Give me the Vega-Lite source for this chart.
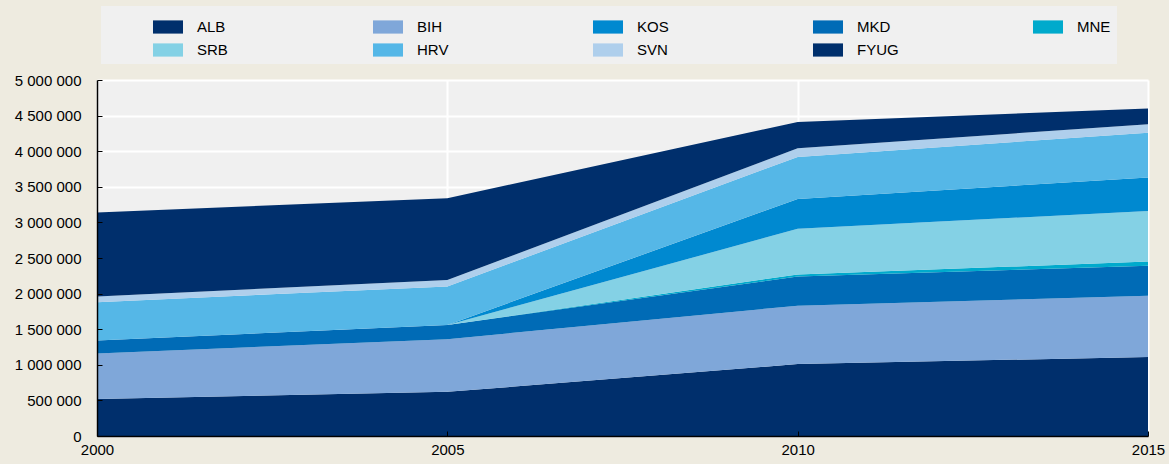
{
  "$schema": "https://vega.github.io/schema/vega-lite/v6.json",
  "width": 1051,
  "height": 356,
  "autosize": {"type": "none"},
  "padding": {"left": 97, "top": 80, "right": 21, "bottom": 28},
  "background": "#eeebe0",
  "config": {
    "view": {"fill": "#f0f0f0", "stroke": null},
    "font": "Liberation Sans, Arial",
    "locale": {"number": {"decimal": ".", "thousands": " ", "grouping": [3], "currency": ["", ""]}}
  },
  "data": {
    "values": [
      {"year": 2000, "country": "ALB", "k": 1, "value": 520000},
      {"year": 2000, "country": "BIH", "k": 2, "value": 640000},
      {"year": 2000, "country": "MKD", "k": 3, "value": 180000},
      {"year": 2000, "country": "MNE", "k": 4, "value": 0},
      {"year": 2000, "country": "SRB", "k": 5, "value": 0},
      {"year": 2000, "country": "KOS", "k": 6, "value": 0},
      {"year": 2000, "country": "HRV", "k": 7, "value": 540000},
      {"year": 2000, "country": "SVN", "k": 8, "value": 80000},
      {"year": 2000, "country": "FYUG", "k": 9, "value": 1180000},
      {"year": 2005, "country": "ALB", "k": 1, "value": 620000},
      {"year": 2005, "country": "BIH", "k": 2, "value": 740000},
      {"year": 2005, "country": "MKD", "k": 3, "value": 200000},
      {"year": 2005, "country": "MNE", "k": 4, "value": 0},
      {"year": 2005, "country": "SRB", "k": 5, "value": 0},
      {"year": 2005, "country": "KOS", "k": 6, "value": 0},
      {"year": 2005, "country": "HRV", "k": 7, "value": 540000},
      {"year": 2005, "country": "SVN", "k": 8, "value": 90000},
      {"year": 2005, "country": "FYUG", "k": 9, "value": 1150000},
      {"year": 2010, "country": "ALB", "k": 1, "value": 1010000},
      {"year": 2010, "country": "BIH", "k": 2, "value": 820000},
      {"year": 2010, "country": "MKD", "k": 3, "value": 410000},
      {"year": 2010, "country": "MNE", "k": 4, "value": 30000},
      {"year": 2010, "country": "SRB", "k": 5, "value": 640000},
      {"year": 2010, "country": "KOS", "k": 6, "value": 420000},
      {"year": 2010, "country": "HRV", "k": 7, "value": 590000},
      {"year": 2010, "country": "SVN", "k": 8, "value": 120000},
      {"year": 2010, "country": "FYUG", "k": 9, "value": 370000},
      {"year": 2015, "country": "ALB", "k": 1, "value": 1110000},
      {"year": 2015, "country": "BIH", "k": 2, "value": 860000},
      {"year": 2015, "country": "MKD", "k": 3, "value": 420000},
      {"year": 2015, "country": "MNE", "k": 4, "value": 60000},
      {"year": 2015, "country": "SRB", "k": 5, "value": 710000},
      {"year": 2015, "country": "KOS", "k": 6, "value": 470000},
      {"year": 2015, "country": "HRV", "k": 7, "value": 630000},
      {"year": 2015, "country": "SVN", "k": 8, "value": 120000},
      {"year": 2015, "country": "FYUG", "k": 9, "value": 220000}
    ]
  },
  "layer": [
    {
      "mark": {"type": "area", "interpolate": "linear"},
      "encoding": {
        "x": {
          "field": "year",
          "type": "quantitative",
          "scale": {"domain": [2000, 2015], "nice": false, "zero": false},
          "axis": {
            "orient": "bottom",
            "title": null,
            "values": [2000, 2005, 2010, 2015],
            "grid": true,
            "gridColor": "#ffffff",
            "gridWidth": 2,
            "gridOpacity": 1,
            "domain": false,
            "ticks": false,
            "labels": false,
            "zindex": 0
          }
        },
        "y": {
          "field": "value",
          "type": "quantitative",
          "stack": "zero",
          "scale": {"domain": [0, 5000000], "nice": false},
          "axis": {
            "orient": "left",
            "title": null,
            "values": [0, 500000, 1000000, 1500000, 2000000, 2500000, 3000000, 3500000, 4000000, 4500000, 5000000],
            "grid": true,
            "gridColor": "#ffffff",
            "gridWidth": 2,
            "gridOpacity": 1,
            "domain": false,
            "ticks": false,
            "labels": false,
            "zindex": 0
          }
        },
        "color": {
          "field": "country",
          "type": "nominal",
          "scale": {
            "domain": ["ALB", "BIH", "KOS", "MKD", "MNE", "SRB", "HRV", "SVN", "FYUG"],
            "range": ["#002f6c", "#7fa7d9", "#0089d0", "#006bb6", "#00aacc", "#84d1e5", "#55b7e7", "#afcfec", "#002f6c"]
          },
          "legend": {
            "orient": "none",
            "legendX": 4,
            "legendY": -74,
            "title": null,
            "direction": "horizontal",
            "columns": 5,
            "gridAlign": "all",
            "columnPadding": 88,
            "rowPadding": -2,
            "padding": 6,
            "symbolOffset": 46,
            "fillColor": "#f0f0f0",
            "symbolType": "M-1,-0.44H1V0.44H-1Z",
            "symbolSize": 900,
            "symbolStrokeWidth": 0,
            "symbolOpacity": 1,
            "labelFontSize": 15,
            "labelColor": "#000000",
            "labelOffset": 14
          }
        },
        "order": {"field": "k", "type": "quantitative"}
      }
    },
    {
      "mark": {"type": "point", "opacity": 0},
      "encoding": {
        "x": {
          "field": "year",
          "type": "quantitative",
          "scale": {"domain": [2000, 2015], "nice": false, "zero": false},
          "axis": {
            "orient": "bottom",
            "title": null,
            "values": [2000, 2005, 2010, 2015],
            "format": "d",
            "grid": false,
            "domainColor": "#000000",
            "domainWidth": 1.5,
            "tickColor": "#000000",
            "tickSize": -5,
            "labelPadding": 11,
            "labelFontSize": 15,
            "labelColor": "#000000",
            "labelFlush": false,
            "zindex": 1
          }
        },
        "y": {
          "field": "value",
          "type": "quantitative",
          "scale": {"domain": [0, 5000000], "nice": false},
          "axis": {
            "orient": "left",
            "title": null,
            "values": [0, 500000, 1000000, 1500000, 2000000, 2500000, 3000000, 3500000, 4000000, 4500000, 5000000],
            "format": ",d",
            "grid": false,
            "domainColor": "#000000",
            "domainWidth": 1.5,
            "tickColor": "#000000",
            "tickSize": -5,
            "labelPadding": 21,
            "labelFontSize": 15,
            "labelColor": "#000000",
            "labelFlush": false,
            "zindex": 1
          }
        }
      }
    }
  ],
  "resolve": {"axis": {"x": "independent", "y": "independent"}}
}
